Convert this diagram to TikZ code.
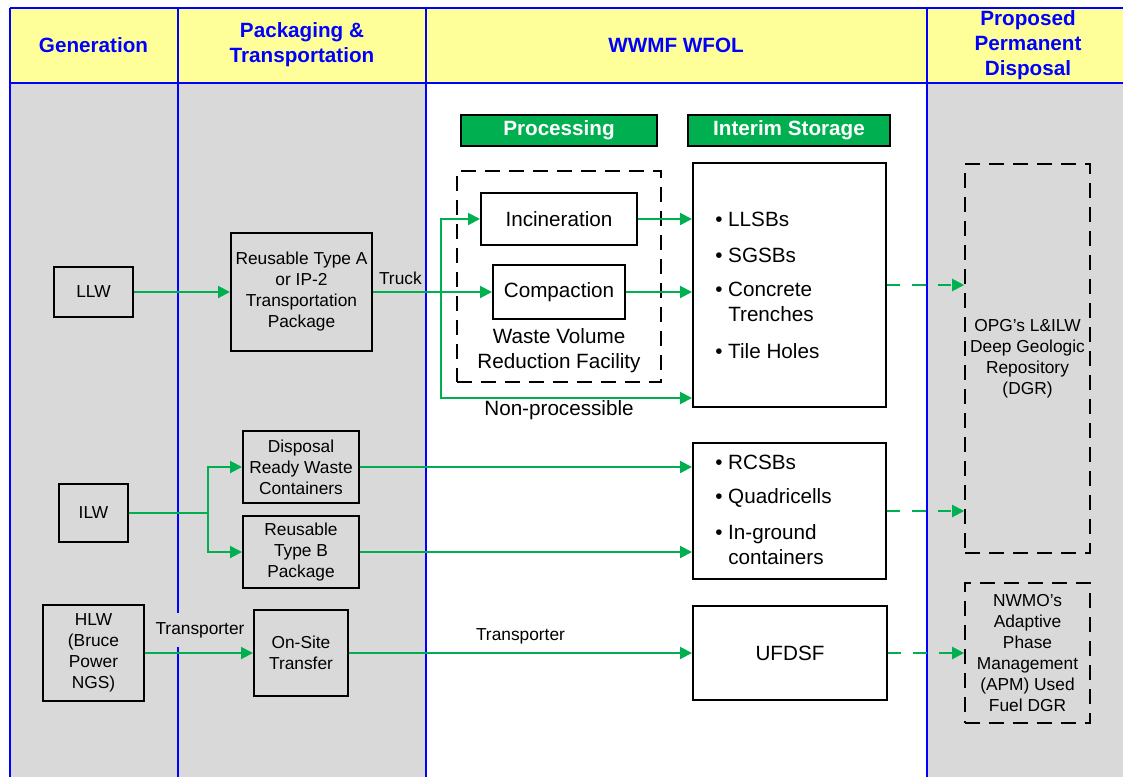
\documentclass[tikz,border=0pt]{standalone}
\usepackage{fontspec}
\setmainfont{Liberation Sans}
\usetikzlibrary{arrows.meta}

\definecolor{hdryellow}{RGB}{255,255,153}
\definecolor{bodygray}{RGB}{217,217,217}
\definecolor{flowgreen}{RGB}{0,176,80}
\definecolor{laneblue}{RGB}{0,0,255}
\newcommand\bigtxt{\fontsize{15.5}{18.75}\selectfont}
\newcommand\midtxt{\fontsize{13}{15.75}\selectfont}

\begin{document}
\begin{tikzpicture}[x=0.75pt,y=-0.75pt,>={Triangle[length=9pt,width=9pt]},
    lane/.style={draw=laneblue,line width=1.5pt},
    colhead/.style={text=laneblue,font=\bigtxt\bfseries,align=center},
    stagehead/.style={draw,fill=flowgreen,text=white,font=\bigtxt\bfseries,
                      minimum height=23.25pt,line width=0.9pt},
    box/.style={draw,line width=1.5pt,align=center,inner sep=0pt,font=\midtxt},
    bigbox/.style={box,font=\bigtxt},
    dbox/.style={box,line width=1.2pt,dash pattern=on 11pt off 7pt},
    item/.style={anchor=west,align=left,inner sep=0pt,font=\bigtxt},
    flow/.style={->,color=flowgreen,line width=1.5pt},
    dflow/.style={flow,dash pattern=on 10pt off 9pt},
    lbl/.style={font=\midtxt,text=black,inner sep=1pt}]
  \useasboundingbox (0,0) rectangle (1123,776);
  % lanes
  \fill[hdryellow] (10,8) rectangle (1130,83);
  \fill[bodygray] (10,83) rectangle (426,790);
  \fill[bodygray] (927,83) rectangle (1130,790);
  \draw[lane] (10,8) -- (1130,8) (10,83) -- (1130,83);
  \foreach \x in {10,178,426,927} \draw[lane] (\x,8) -- (\x,790);

  \node[colhead] (hgen) at (93.5,45) {Generation};
  \node[colhead] (hpack) at (302,45) {Packaging \&\\Transportation};
  \node[colhead] (hwwmf) at (676,45) {WWMF WFOL};
  \node[colhead] (hdisp) at (1028,45.5) {Proposed\\Permanent\\Disposal};

  % generation and packaging
  \node[box,minimum width=59.25pt,minimum height=37.5pt] (llw) at (93.5,292) {LLW};
  \node[box,minimum width=105.75pt,minimum height=88.5pt] (typea) at (301.5,292)
    {Reusable Type A\\or IP-2\\Transportation\\Package};
  \node[box,minimum width=51.75pt,minimum height=43.5pt] (ilw) at (93.5,513) {ILW};
  \node[box,minimum width=87pt,minimum height=54pt] (drwc) at (301,467)
    {Disposal\\Ready Waste\\Containers};
  \node[box,minimum width=87pt,minimum height=54pt] (typeb) at (301,552)
    {Reusable\\Type B\\Package};
  \node[box,minimum width=75.75pt,minimum height=72pt] (hlw) at (93.5,653)
    {HLW\\(Bruce\\Power\\NGS)};
  \node[box,minimum width=70.5pt,minimum height=64.5pt] (onsite) at (301,653)
    {On-Site\\Transfer};

  % WWMF
  \node[stagehead,minimum width=147pt] (proc) at (559,130.5) {Processing};
  \node[stagehead,minimum width=151.5pt] (interim) at (789,130.5) {Interim Storage};
  \node[dbox,minimum width=153pt,minimum height=158.25pt] (wvrf) at (559,276.5) {};
  \node[bigbox,minimum width=117pt,minimum height=39pt] (incin) at (559,219) {Incineration};
  \node[bigbox,minimum width=99pt,minimum height=40.5pt] (compact) at (559,292) {Compaction};
  \node[font=\bigtxt,align=center,inner sep=0pt] (wvrflbl) at (559,350.5)
    {Waste Volume\\Reduction Facility};
  \node[font=\bigtxt,inner sep=0pt] (nonproc) at (559,410) {Non-processible};

  \node[box,minimum width=144.75pt,minimum height=183pt] (store1) at (789.5,285) {};
  \node[item] (llsb) at (715,219) {\textbullet\ LLSBs};
  \node[item] (sgsb) at (715,255.5) {\textbullet\ SGSBs};
  \node[item] (trench) at (715,302) {\textbullet\ Concrete\\\phantom{\textbullet\ }Trenches};
  \node[item] (tile) at (715,351) {\textbullet\ Tile Holes};

  \node[box,minimum width=144.75pt,minimum height=102pt] (store2) at (789.5,511) {};
  \node[item] (rcsb) at (715,462.5) {\textbullet\ RCSBs};
  \node[item] (quad) at (715,498) {\textbullet\ Quadricells};
  \node[item] (inground) at (715,545) {\textbullet\ In-ground\\\phantom{\textbullet\ }containers};

  \node[bigbox,minimum width=145.5pt,minimum height=70.5pt] (ufdsf) at (790,653) {UFDSF};

  % disposal
  \node[dbox,minimum width=93.75pt,minimum height=291.75pt] (dgr) at (1027.5,358.5)
    {OPG's L\&ILW\\Deep Geologic\\Repository\\(DGR)};
  \node[dbox,minimum width=93.75pt,minimum height=105pt] (apm) at (1027.5,653)
    {NWMO's\\Adaptive\\Phase\\Management\\(APM) Used\\Fuel DGR};

  % flows
  \coordinate (split) at (441,292);
  \coordinate (ilwsplit) at (208,513);
  \path[flow]
    (llw) edge (typea)
    (typea.east) edge node[lbl,above,pos=0.23,yshift=4pt] (truck) {Truck} (compact.west)
    (incin.east) edge (incin.east -| store1.west)
    (compact.east) edge (compact.east -| store1.west)
    (drwc.east) edge (drwc.east -| store2.west)
    (typeb.east) edge (typeb.east -| store2.west)
    (onsite.east) edge node[lbl,above,pos=0.5,yshift=5pt] (trans2) {Transporter} (onsite.east -| ufdsf.west);
  \draw[flow] (split) |- (incin.west);
  \draw[flow] (split) |- ([yshift=7.5pt]store1.south west);
  \draw[flow] (ilw.east) -- (ilwsplit) |- (drwc.west);
  \draw[flow] (ilwsplit) |- (typeb.west);
  \draw[flow] (hlw.east) -- (hlw.east -| onsite.west);
  \node[lbl,fill=bodygray,inner ysep=7pt] (trans1) at (200,630) {Transporter};
  \path[dflow]
    (store1.east) edge (store1.east -| dgr.west)
    (store2.east) edge (store2.east -| dgr.west)
    (ufdsf.east) edge (ufdsf.east -| apm.west);
\end{tikzpicture}
\end{document}
